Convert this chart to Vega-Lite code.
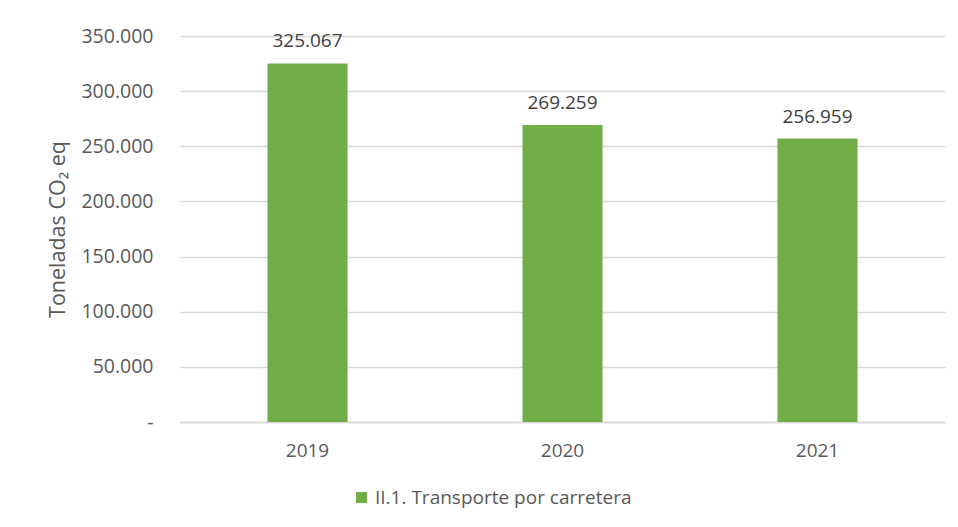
{
  "$schema": "https://vega.github.io/schema/vega-lite/v6.json",
  "width": 765,
  "height": 386,
  "autosize": "none",
  "padding": {"left": 180, "top": 36, "right": 13, "bottom": 105},
  "background": "white",
  "config": {
    "locale": {"number": {"decimal": ",", "thousands": ".", "grouping": [3], "currency": ["", " €"]}},
    "view": {"stroke": null},
    "font": "Open Sans"
  },
  "data": {
    "values": [
      {"year": "2019", "value": 325067, "serie": "II.1. Transporte por carretera"},
      {"year": "2020", "value": 269259, "serie": "II.1. Transporte por carretera"},
      {"year": "2021", "value": 256959, "serie": "II.1. Transporte por carretera"}
    ]
  },
  "encoding": {
    "x": {
      "field": "year",
      "type": "nominal",
      "scale": {"paddingInner": 0.686, "paddingOuter": 0.343},
      "axis": {
        "title": null,
        "labelAngle": 0,
        "labelFont": "Open Sans",
        "labelFontSize": 19,
        "labelColor": "#595959",
        "labelPadding": 19,
        "ticks": false,
        "domainColor": "#D9D9D9",
        "domainWidth": 1.5
      }
    },
    "y": {
      "field": "value",
      "type": "quantitative",
      "scale": {"domain": [0, 350000], "nice": false},
      "axis": {
        "title": "Toneladas CO₂ eq",
        "titleFont": "Open Sans",
        "titleFontSize": 21.5,
        "titleFontWeight": "normal",
        "titleColor": "#595959",
        "titlePadding": 11,
        "values": [0, 50000, 100000, 150000, 200000, 250000, 300000, 350000],
        "labelExpr": "datum.value == 0 ? '-' : format(datum.value, ',.0f')",
        "labelFont": "Open Sans",
        "labelFontSize": 19.5,
        "labelColor": "#595959",
        "labelPadding": 27,
        "ticks": false,
        "domain": false,
        "grid": true,
        "gridColor": "#D9D9D9",
        "gridWidth": 1.5
      }
    }
  },
  "layer": [
    {
      "mark": {"type": "bar", "color": "#70AD47"},
      "encoding": {
        "color": {
          "field": "serie",
          "type": "nominal",
          "scale": {"range": ["#70AD47"]},
          "legend": {
            "title": null,
            "orient": "none",
            "legendX": 172,
            "legendY": 452,
            "symbolType": "square",
            "symbolSize": 121,
            "symbolStrokeWidth": 0,
            "labelFont": "Open Sans",
            "labelFontSize": 19,
            "labelLimit": 400,
            "labelColor": "#595959",
            "labelOffset": 4
          }
        }
      }
    },
    {
      "mark": {"type": "text", "baseline": "bottom", "dy": -12, "fontSize": 19, "font": "Open Sans", "color": "#404040"},
      "encoding": {
        "text": {"field": "value", "type": "quantitative", "format": ",.0f"}
      }
    }
  ]
}
